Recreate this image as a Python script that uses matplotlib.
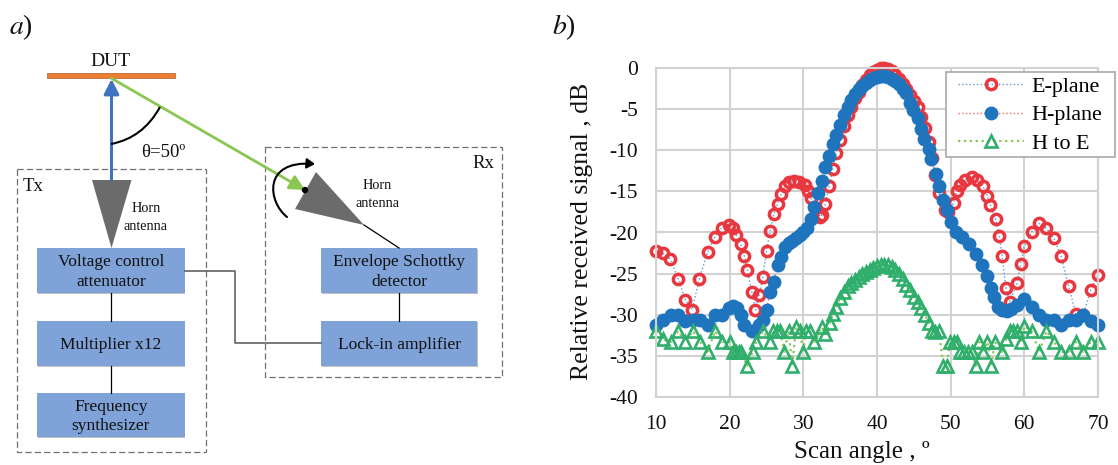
import matplotlib
matplotlib.use("Agg")
import matplotlib.pyplot as plt
from matplotlib.patches import FancyArrowPatch, PathPatch, Polygon, Rectangle, Circle
from matplotlib.path import Path

plt.rcParams['font.family'] = ['Liberation Serif', 'DejaVu Sans']
plt.rcParams['axes.unicode_minus'] = False

W, H = 1118, 465

# E-plane
e_x = [10, 10.9, 11.9, 13, 14, 14.9, 15.9, 17, 18, 18.9, 19.9, 20.4, 20.9, 21.5, 22, 22.4, 23, 23.5, 24, 24.5, 25,
       25.5, 26, 26.5, 27, 27.5, 28, 28.7, 29.4, 30.2, 30.7, 31, 32.3, 32.5, 33, 33.5, 34, 34.5, 35, 35.5, 36,
       36.5, 37, 37.5, 38, 38.5, 39, 39.5, 40, 40.5, 41, 41.5, 42, 42.5, 43, 43.5, 44, 44.5, 45, 45.5, 46, 46.5,
       47, 47.5, 47.9, 48.4, 49.2, 49.7, 50.4, 50.8, 51.3, 52, 52.9, 53.6, 54.4, 55, 55.4, 56.1, 56.6, 57, 57.5,
       58, 59, 59.5, 60, 61, 62, 63, 64, 65, 66, 67, 68, 69, 70]
e_y = [-22.3, -22.5, -23.2, -25.6, -28.2, -29.4, -25.6, -22.4, -20.5, -19.4, -19.1, -19.4, -20.3, -21.4, -22.9,
       -24.6, -27.2, -29.4, -27.6, -25.4, -22.2, -19.8, -17.8, -16.5, -15.3, -14.4, -13.9, -13.7, -13.8, -14.2,
       -15, -15.8, -18.1, -17.9, -16.5, -14.4, -12.3, -10.3, -8.7, -7.1, -5.7, -4.7, -3.7, -2.9, -2.1, -1.5,
       -0.9, -0.5, -0.2, -0.05, 0, -0.1, -0.4, -0.8, -1.3, -1.9, -2.6, -3.3, -4, -4.8, -5.9, -7.3, -9, -11, -13,
       -15.2, -17.3, -17.5, -16.4, -15, -14.2, -13.6, -13.3, -13.6, -14.4, -15.6, -16.7, -18.4, -20.4, -22.9,
       -26.7, -28.4, -26.2, -23.8, -21.7, -19.9, -18.9, -19.5, -20.7, -22.9, -26.5, -29.9, -30, -27, -25.2]

# H-plane
h_x = [10, 11, 12, 13, 14, 15, 16, 17, 18, 19, 19.9, 20.4, 21, 21.5, 22, 23, 24, 24.5, 25, 25.5, 26, 26.5, 27, 27.5,
       28, 28.5, 29, 29.5, 30, 30.5, 31, 31.5, 32, 32.5, 33, 33.5, 34, 34.5, 35, 35.5, 36, 36.5, 37, 37.5, 38,
       38.5, 39, 39.5, 40, 40.5, 41, 41.5, 42, 42.5, 43, 43.5, 44, 44.5, 44.9, 45.6, 46, 46.4, 47, 47.3, 48, 48.4,
       49, 49.5, 50, 50.7, 51.6, 52.5, 53.4, 54.3, 54.9, 55.5, 55.9, 56.4, 57, 57.6, 58.2, 59, 59.9, 61, 62, 63,
       64, 65, 66, 67, 68, 69, 70]
h_y = [-31.2, -30.6, -30, -30, -30.7, -30.6, -30.6, -31.3, -30, -30, -29.2, -28.9, -29.2, -30, -31.3, -32, -31.2,
       -30.6, -29.4, -27.2, -26, -24, -23, -21.8, -21.3, -21, -20.7, -20.3, -19.9, -19.5, -18.3, -16.9, -15.2,
       -13.7, -12, -10.7, -9.3, -8.1, -6.9, -5.7, -4.7, -3.9, -3.2, -2.6, -2.2, -1.8, -1.5, -1.25, -1.05, -1, -1,
       -1.1, -1.3, -1.6, -2, -2.5, -3.1, -4.2, -5.1, -6.1, -7.4, -8.6, -9.8, -11.1, -12.9, -14.4, -16.1, -17.3,
       -18.7, -19.9, -20.5, -21.4, -22.6, -24, -25.3, -26.7, -27.9, -29, -29.4, -29.5, -29.3, -28.8, -28.1, -29,
       -30, -30.6, -30.6, -31.3, -30.6, -30.6, -30, -30.8, -31.3]

# H to E
c_x = [10, 11, 12, 13, 14, 15, 16, 17, 18, 19, 20, 20.4, 20.8, 21.2, 21.5, 22.4, 23.1, 23.6, 24.5, 25.5, 25.9, 26.4,
       26.9, 27.4, 28, 28.5, 29, 29.5, 30, 30.4, 30.9, 31.5, 32.5, 33, 33.6, 34, 34.5, 35, 35.5, 36, 36.5, 37,
       37.5, 38, 38.5, 39, 39.5, 40, 40.5, 41, 41.5, 42, 42.5, 43, 43.5, 44, 44.5, 45, 45.5, 46, 46.5, 47, 47.4,
       47.9, 48.4, 49, 49.5, 49.9, 50.4, 50.9, 51.3, 51.8, 52.3, 52.9, 53.4, 53.9, 54.4, 55, 55.5, 56, 57, 57.5,
       58, 58.5, 59, 59.5, 60, 61, 62, 63, 64, 65, 66, 67, 68, 69, 70]
c_y = [-32, -33, -33.3, -32, -33.3, -32, -33.3, -34.5, -32, -33.3, -33.3, -34.5, -34.5, -34.5, -34.5, -36.2, -34.5,
       -33.3, -32, -33.3, -32, -32, -32, -34.5, -32, -36.2, -31.5, -32, -34.5, -32, -32, -33.3, -31.5, -32.3, -31,
       -29.9, -29, -28, -27.2, -26.5, -26.1, -25.8, -25.4, -25.1, -24.8, -24.5, -24.3, -24.1, -24, -23.9, -24,
       -24.2, -24.6, -25, -25.7, -26.4, -27, -27.8, -28.5, -29.2, -30, -31, -32, -32.1, -32, -36.2, -36.2, -33.3,
       -33.3, -33.3, -34.5, -34.5, -34.5, -34.5, -36.2, -33.3, -34.5, -33.3, -36.2, -33.3, -34.5, -33, -32, -32,
       -32, -33.3, -31.4, -32, -34.5, -32, -33.3, -34.5, -34.5, -33.3, -34.5, -33.3, -33.3]

x_ticks = [10, 20, 30, 40, 50, 60, 70]
y_ticks = [0, -5, -10, -15, -20, -25, -30, -35, -40]

tx_boxes = ["Voltage control\nattenuator", "Multiplier x12", "Frequency\nsynthesizer"]
rx_boxes = ["Envelope Schottky\ndetector", "Lock-in amplifier"]

RED = '#E9373F'
BLUE = '#1F74BE'
GREEN = '#2FAE6C'
GRID = '#D2D2D2'

fig = plt.figure(figsize=(W / 100, H / 100), dpi=100)

# chart axes, placed by pixel
L, R, T, B = 656, 1098, 68, 397
ax = fig.add_axes([L / W, 1 - B / H, (R - L) / W, (B - T) / H])
ax.plot(e_x, e_y, ls=':', lw=1.0, color='#5B9BD5', marker='o', ms=7.4, mew=2.5, mec=RED, mfc='none', clip_on=False, label='E-plane')
ax.plot(h_x, h_y, ls=':', lw=1.0, color='#E8666C', marker='o', ms=10.0, mew=0, mfc=BLUE, clip_on=False, label='H-plane')
ax.plot(c_x, c_y, ls=':', lw=1.6, color='#8BC653', marker='^', ms=9.2, mew=1.9, mec=GREEN, mfc='none', clip_on=False, label='H to E')
ax.set_xlim(10, 70)
ax.set_ylim(-40, 0)
ax.set_xticks(x_ticks)
ax.set_yticks(y_ticks)
ax.grid(True, color=GRID, lw=1.5)
ax.set_axisbelow(True)
for s in ax.spines.values():
    s.set_color(GRID)
    s.set_linewidth(1.5)
ax.tick_params(axis='x', length=0, labelsize=15.5, pad=13, labelcolor='#111111')
ax.tick_params(axis='y', length=0, labelsize=15.5, pad=13, labelcolor='#111111')
ax.patch.set_alpha(0)

# legend frame is drawn apart so its left padding can differ from the top one
top = fig.add_axes([0, 0, 1, 1], zorder=3)
top.set_xlim(0, W)
top.set_ylim(H, 0)
top.axis('off')
top.add_patch(Rectangle((946, 72), 169, 84.7, fc='white', ec='#A8A8A8', lw=1.2))

leg = fig.legend(handles=ax.get_lines(), loc='upper left', bbox_to_anchor=(955 / W, 1 - 73.5 / H),
                 fontsize=15.8, frameon=False, borderpad=0.15, borderaxespad=0,
                 labelspacing=0.36, handlelength=3.0, handletextpad=0.35)
leg.set_zorder(5)

# overlay in image pixels for the block diagram and free text
ov = fig.add_axes([0, 0, 1, 1], zorder=-1)
ov.set_xlim(0, W)
ov.set_ylim(H, 0)
ov.axis('off')


def box(x0, x1, y0, y1, text):
    ov.add_patch(Rectangle((x0 + 0.5, y0 + 1), x1 - x0, y1 - y0, fc='#999999', ec='none', alpha=0.6))
    ov.add_patch(Rectangle((x0, y0), x1 - x0, y1 - y0, fc='#7FA3D8', ec='none'))
    ov.text((x0 + x1) / 2, (y0 + y1) / 2 + 1.5, text, ha='center', va='center', fontsize=12.5, color='#111111', linespacing=1.32)


def dashed(x0, x1, y0, y1):
    ov.add_patch(Rectangle((x0, y0), x1 - x0, y1 - y0, fc='none', ec='#707070', lw=0.9, ls=(0, (5, 2.5))))


dashed(17, 205.5, 169, 451.7)
dashed(265, 501.5, 147, 376.7)

rows = [(248.3, 293.3), (321, 365.7), (393, 437)]
for (y0, y1), t in zip(rows, tx_boxes):
    box(37, 184.5, y0, y1, t)
for (y0, y1), t in zip(rows, rx_boxes):
    box(321, 477, y0, y1, t)

ov.plot([111, 111], [293, 321], color='k', lw=0.9)
ov.plot([111, 111], [365.7, 393], color='k', lw=0.9)
ov.plot([399, 399], [293, 321], color='k', lw=0.9)
ov.plot([364, 399], [225, 248], color='k', lw=0.9)
ov.plot([184.5, 235, 235, 321], [270.5, 270.5, 343, 343], color='#555555', lw=1.1)

# DUT and beams
ov.add_patch(Rectangle((47, 73), 128, 5, fc='#ED7D31', ec='#B5703C', lw=0.6))
ov.add_patch(Polygon([(92, 180), (131.5, 180), (111.5, 248)], fc='#6B6B6B', ec='none'))
ov.add_patch(Polygon([(316, 172), (295, 209), (364, 225)], fc='#6B6B6B', ec='none'))
ov.add_patch(FancyArrowPatch((111.5, 180), (111.5, 79), arrowstyle='-|>,head_length=0.75,head_width=0.38', mutation_scale=12,
                             color='#3F74C0', lw=2.2, shrinkA=0, shrinkB=0))
ov.add_patch(FancyArrowPatch((111, 78), (305, 190), arrowstyle='-|>,head_length=0.75,head_width=0.38', mutation_scale=12,
                             color='#8BC653', lw=2.0, shrinkA=0, shrinkB=0))
ov.add_patch(PathPatch(Path([(111, 144), (143, 138), (160, 107)], [Path.MOVETO, Path.CURVE3, Path.CURVE3]), fc='none', ec='k', lw=1.5))
rot = Path([(287, 217), (268, 202), (262, 160), (315, 164)], [Path.MOVETO, Path.CURVE4, Path.CURVE4, Path.CURVE4])
ov.add_patch(FancyArrowPatch(path=rot, arrowstyle='-|>,head_length=0.4,head_width=0.25', mutation_scale=12, color='k', lw=1.5))
ov.add_patch(Circle((305, 190), 3.2, fc='k', ec='none', zorder=5))

ov.text(110, 62, "DUT", ha='center', va='center', fontsize=14, color='#111111')
ov.text(163, 152, "θ=50º", ha='center', va='center', fontsize=13.5, color='#111111')
ov.text(33.5, 186, "Tx", ha='center', va='center', fontsize=13.5, color='#111111')
ov.text(483, 163, "Rx", ha='center', va='center', fontsize=13.5, color='#111111')
ov.text(146, 217, "Horn\nantenna", ha='center', va='center', fontsize=10.3, color='#111111', linespacing=1.5)
ov.text(377, 194, "Horn\nantenna", ha='center', va='center', fontsize=10.3, color='#111111', linespacing=1.5)

ov.text(9, 27, "$\\mathit{a}$)", ha='left', va='center', fontsize=20, color='#111111', math_fontfamily='stix')
ov.text(552, 27, "$\\mathit{b}$)", ha='left', va='center', fontsize=20, color='#111111', math_fontfamily='stix')
ov.text(582, 231, "Relative received signal , dB", rotation=90, ha='center', va='center', fontsize=18.5, color='#111111')
ov.text(862, 452, "Scan angle , º", ha='center', va='center', fontsize=18, color='#111111')

fig.savefig("out.png", dpi=100)
